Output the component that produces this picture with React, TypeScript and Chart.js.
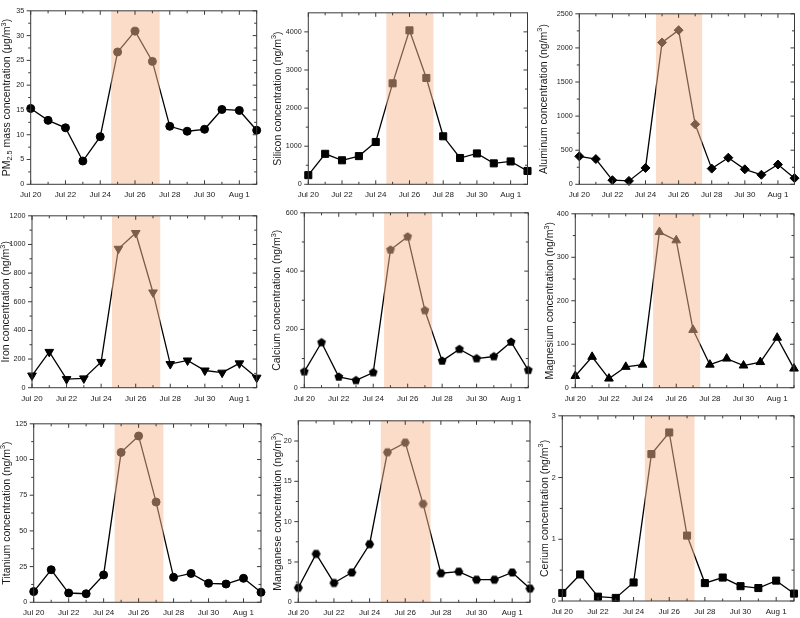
import React, { useEffect, useRef } from 'react';
import { Chart, registerables } from 'chart.js';

Chart.register(...registerables);

// ---------- DATA ----------
const categories = [
  'Jul 20', 'Jul 21', 'Jul 22', 'Jul 23', 'Jul 24', 'Jul 25', 'Jul 26',
  'Jul 27', 'Jul 28', 'Jul 29', 'Jul 30', 'Jul 31', 'Aug 1', 'Aug 2',
];
const xTickIndices = [0, 2, 4, 6, 8, 10, 12];
const eventStart = 4.63; // shaded episode (days after Jul 20)
const eventEnd = 7.42;

const pm25Values = [15.3, 12.9, 11.4, 4.7, 9.6, 26.7, 30.9, 24.8, 11.7, 10.7, 11.1, 15.1, 14.9, 10.9];
const siliconValues = [240, 800, 630, 740, 1110, 2650, 4040, 2790, 1260, 690, 810, 550, 600, 350];
const aluminumValues = [410, 370, 60, 50, 240, 2080, 2260, 880, 230, 390, 220, 140, 290, 90];
const ironValues = [85, 250, 60, 65, 180, 970, 1080, 665, 165, 190, 120, 105, 170, 70];
const calciumValues = [55, 155, 37, 25, 52, 473, 518, 265, 92, 132, 100, 107, 157, 60];
const magnesiumValues = [27, 71, 21, 48, 53, 358, 339, 133, 53, 67, 51, 59, 115, 44];
const titaniumValues = [7.5, 22.8, 6.5, 6.0, 19.2, 105, 116.5, 70.2, 17.5, 20.2, 13.3, 12.8, 16.8, 7.0];
const manganeseValues = [1.8, 6.0, 2.4, 3.7, 7.2, 18.6, 19.8, 12.2, 3.6, 3.8, 2.8, 2.8, 3.7, 1.7];
const ceriumValues = [0.13, 0.43, 0.07, 0.05, 0.30, 2.38, 2.73, 1.06, 0.29, 0.38, 0.24, 0.21, 0.33, 0.12];

const pmTicks = [0, 5, 10, 15, 20, 25, 30, 35];
const siliconTicks = [0, 1000, 2000, 3000, 4000];
const aluminumTicks = [0, 500, 1000, 1500, 2000, 2500];
const ironTicks = [0, 200, 400, 600, 800, 1000, 1200];
const calciumTicks = [0, 200, 400, 600];
const magnesiumTicks = [0, 100, 200, 300, 400];
const titaniumTicks = [0, 25, 50, 75, 100, 125];
const manganeseTicks = [0, 5, 10, 15, 20];
const ceriumTicks = [0, 1, 2, 3];

// ---------- MARKER IMAGES ----------
function polygonImage(sides: number, r: number, rot: number) {
  const c = document.createElement('canvas');
  const s = Math.ceil(r * 2 + 2);
  c.width = s;
  c.height = s;
  const ctx = c.getContext('2d')!;
  ctx.fillStyle = '#000';
  ctx.beginPath();
  for (let i = 0; i < sides; i++) {
    const a = rot + (i * 2 * Math.PI) / sides;
    const px = s / 2 + r * Math.cos(a);
    const py = s / 2 + r * Math.sin(a);
    if (i === 0) ctx.moveTo(px, py);
    else ctx.lineTo(px, py);
  }
  ctx.closePath();
  ctx.fill();
  return c;
}

type Seg = { t: string; sub?: boolean; sup?: boolean };
const ngTitle = (name: string): Seg[] => [
  { t: name + ' concentration (ng/m' },
  { t: '3', sup: true },
  { t: ')' },
];

type PanelCfg = {
  values: number[];
  yMax: number;
  yTicks: number[];
  point: string;
  radius: number;
  rotation?: number;
  title: Seg[];
  L: number; T: number; R: number; B: number; titleX: number;
};

const panels: PanelCfg[] = [
  { values: pm25Values, yMax: 35, yTicks: pmTicks, point: 'circle', radius: 4,
    title: [{ t: 'PM' }, { t: '2.5', sub: true }, { t: ' mass concentration (\u03bcg/m' }, { t: '3', sup: true }, { t: ')' }],
    L: 30.7, T: 3.3, R: 256.7, B: 184.3, titleX: 7.5 },
  { values: siliconValues, yMax: 4500, yTicks: siliconTicks, point: 'rect', radius: 5,
    title: ngTitle('Silicon'), L: 308.3, T: 8.5, R: 527.5, B: 184.3, titleX: 278 },
  { values: aluminumValues, yMax: 2500, yTicks: aluminumTicks, point: 'rectRot', radius: 4.5,
    title: ngTitle('Aluminum'), L: 579.3, T: 9.3, R: 798.5, B: 184.3, titleX: 544 },
  { values: ironValues, yMax: 1200, yTicks: ironTicks, point: 'triangle', radius: 5, rotation: 180,
    title: ngTitle('Iron'), L: 32, T: 211.7, R: 256.7, B: 387.7, titleX: 6.5 },
  { values: calciumValues, yMax: 600, yTicks: calciumTicks, point: 'pentagon', radius: 4.6,
    title: ngTitle('Calcium'), L: 304.3, T: 208.3, R: 528.3, B: 387.7, titleX: 277.5 },
  { values: magnesiumValues, yMax: 400, yTicks: magnesiumTicks, point: 'triangle', radius: 5,
    title: ngTitle('Magnesium'), L: 575.3, T: 209, R: 799, B: 387.7, titleX: 550.5 },
  { values: titaniumValues, yMax: 125, yTicks: titaniumTicks, point: 'circle', radius: 4,
    title: ngTitle('Titanium'), L: 33.7, T: 419.3, R: 261, B: 602.3, titleX: 7 },
  { values: manganeseValues, yMax: 22.5, yTicks: manganeseTicks, point: 'hexagon', radius: 4.5,
    title: ngTitle('Manganese'), L: 298.3, T: 416.7, R: 530, B: 602.3, titleX: 278 },
  { values: ceriumValues, yMax: 3, yTicks: ceriumTicks, point: 'rect', radius: 5,
    title: ngTitle('Cerium'), L: 562.3, T: 411, R: 799.3, B: 601, titleX: 545 },
];

const FONT = "'Liberation Sans', Arial, Helvetica, sans-serif";
const TEXT = '#1a1a1a';
const FRAME = '#3a3a3a';

function Panel({ cfg }: { cfg: PanelCfg }) {
  const ref = useRef<HTMLCanvasElement | null>(null);
  const x0 = Math.floor(cfg.titleX - 9);
  const y0 = Math.max(0, Math.floor(cfg.T - 6));
  const x1 = Math.min(800, Math.ceil(cfg.R + 6));
  const y1 = Math.min(618, Math.ceil(cfg.B + 18));
  const w = x1 - x0;
  const h = y1 - y0;

  useEffect(() => {
    if (!ref.current) return;
    let pointStyle: any = cfg.point;
    if (cfg.point === 'pentagon') pointStyle = polygonImage(5, cfg.radius, -Math.PI / 2);
    if (cfg.point === 'hexagon') pointStyle = polygonImage(6, cfg.radius, 0);

    const minorY: number[] = [];
    for (let i = 0; i < cfg.yTicks.length - 1; i++) minorY.push((cfg.yTicks[i] + cfg.yTicks[i + 1]) / 2);
    const step = cfg.yTicks[1] - cfg.yTicks[0];
    const lastMinor = cfg.yTicks[cfg.yTicks.length - 1] + step / 2;
    if (lastMinor < cfg.yMax - 1e-9) minorY.push(lastMinor);

    const decor = {
      id: 'decor',
      afterDatasetsDraw(chart: any) {
        const ctx = chart.ctx;
        const { top, bottom } = chart.chartArea;
        const xs = chart.scales.x;
        const a = xs.getPixelForValue(eventStart);
        const b = xs.getPixelForValue(eventEnd);
        ctx.save();
        ctx.fillStyle = 'rgba(245, 186, 146, 0.5)';
        ctx.fillRect(a, top, b - a, bottom - top);
        ctx.restore();
      },
      afterDraw(chart: any) {
        const ctx = chart.ctx;
        const { left, right, top, bottom } = chart.chartArea;
        const xs = chart.scales.x;
        const ys = chart.scales.y;
        ctx.save();
        ctx.strokeStyle = FRAME;
        ctx.lineWidth = 1;
        ctx.strokeRect(left, top, right - left, bottom - top);
        ctx.beginPath();
        for (let d = 0; d < categories.length; d++) {
          const px = xs.getPixelForValue(d);
          const len = xTickIndices.includes(d) ? 4 : 2.5;
          ctx.moveTo(px, bottom);
          ctx.lineTo(px, bottom - len);
          ctx.moveTo(px, top);
          ctx.lineTo(px, top + len);
        }
        const yAll = cfg.yTicks.map((v) => ({ v, len: 4 })).concat(minorY.map((v) => ({ v, len: 2.5 })));
        for (const t of yAll) {
          const py = ys.getPixelForValue(t.v);
          ctx.moveTo(left, py);
          ctx.lineTo(left - t.len, py);
          ctx.moveTo(right, py);
          ctx.lineTo(right - t.len, py);
        }
        ctx.stroke();

        // y-axis title with sub/superscripts
        const fs = 10.5;
        const cx = cfg.titleX - x0;
        const cy = (top + bottom) / 2;
        ctx.translate(cx, cy);
        ctx.rotate(-Math.PI / 2);
        ctx.fillStyle = TEXT;
        ctx.textBaseline = 'middle';
        ctx.textAlign = 'left';
        const fontFor = (s: Seg) => `${s.sub || s.sup ? fs * 0.7 : fs}px ${FONT}`;
        let total = 0;
        for (const s of cfg.title) {
          ctx.font = fontFor(s);
          total += ctx.measureText(s.t).width;
        }
        let x = -total / 2;
        for (const s of cfg.title) {
          ctx.font = fontFor(s);
          const dy = s.sub ? fs * 0.28 : s.sup ? -fs * 0.35 : 0;
          ctx.fillText(s.t, x, dy);
          x += ctx.measureText(s.t).width;
        }
        ctx.restore();
      },
    };

    const chart = new Chart(ref.current, {
      type: 'line',
      data: {
        datasets: [
          {
            data: cfg.values.map((v, i) => ({ x: i, y: v })),
            borderColor: '#000',
            borderWidth: 1.3,
            backgroundColor: '#000',
            pointBackgroundColor: '#000',
            pointBorderColor: '#000',
            pointBorderWidth: 1,
            pointStyle,
            pointRadius: cfg.radius,
            pointRotation: cfg.rotation || 0,
            tension: 0,
            fill: false,
            clip: false as any,
          },
        ],
      },
      options: {
        animation: false,
        responsive: false,
        devicePixelRatio: 1,
        events: [],
        layout: { padding: { left: 0, top: cfg.T - y0, right: x1 - cfg.R, bottom: 0 } },
        plugins: { legend: { display: false }, tooltip: { enabled: false }, title: { display: false } },
        scales: {
          x: {
            type: 'linear',
            min: 0,
            max: categories.length - 1,
            grid: { display: false, drawTicks: false },
            border: { display: false },
            afterBuildTicks: (scale: any) => {
              scale.ticks = xTickIndices.map((v) => ({ value: v }));
            },
            afterFit: (scale: any) => {
              scale.height = y1 - cfg.B;
            },
            ticks: {
              autoSkip: false,
              maxRotation: 0,
              padding: 6,
              color: TEXT,
              font: { family: FONT, size: 8 },
              callback: (v: any) => categories[Math.round(Number(v))] ?? '',
            },
          },
          y: {
            type: 'linear',
            min: 0,
            max: cfg.yMax,
            grid: { display: false, drawTicks: false },
            border: { display: false },
            afterBuildTicks: (scale: any) => {
              scale.ticks = cfg.yTicks.map((v) => ({ value: v }));
            },
            afterFit: (scale: any) => {
              scale.width = cfg.L - x0;
            },
            ticks: {
              padding: 6.5,
              color: TEXT,
              font: { family: FONT, size: 7.2 },
              callback: (v: any) => String(v),
            },
          },
        },
      },
      plugins: [decor],
    } as any);
    return () => chart.destroy();
  }, []);

  return (
    <canvas
      ref={ref}
      width={w}
      height={h}
      style={{ position: 'absolute', left: x0, top: y0, width: w, height: h }}
    />
  );
}

export default function App() {
  return (
    <div style={{ position: 'absolute', left: 0, top: 0, width: 800, height: 618, background: '#fff', overflow: 'hidden' }}>
      {panels.map((p, i) => (
        <Panel key={i} cfg={p} />
      ))}
    </div>
  );
}
